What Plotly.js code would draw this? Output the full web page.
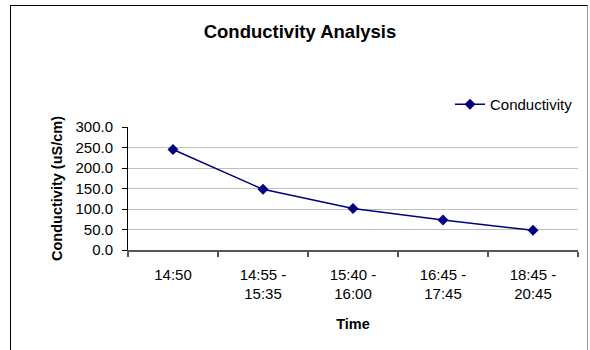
<!DOCTYPE html>
<html>
<head>
<meta charset="utf-8">
<script src="https://cdn.plot.ly/plotly-3.0.1.min.js"></script>
<style>
  html, body { margin: 0; padding: 0; background: #fff; }
  #wrap { position: relative; width: 590px; height: 350px; overflow: hidden; }
  #chart { width: 590px; height: 350px; }
  #frame { position: absolute; left: 10px; top: 5px; width: 576px; height: 400px;
           border-left: 1px solid #000; border-top: 1px solid #000; border-right: 1px solid #999;
           pointer-events: none; }
</style>
</head>
<body>
<div id="wrap">
  <div id="chart"></div>
  <div id="frame"></div>
</div>
<script>
const categories = ["14:50", "14:55 -<br>15:35", "15:40 -<br>16:00", "16:45 -<br>17:45", "18:45 -<br>20:45"];
const conductivity = [245, 148, 101, 73, 48];
const seriesName = "Conductivity";
const yTicks = [0, 50, 100, 150, 200, 250, 300];

const FONT = "Liberation Sans, Arial, sans-serif";
const NAVY = "#000080";

const trace = {
  type: "scatter",
  mode: "lines+markers",
  x: categories,
  y: conductivity,
  name: seriesName,
  line: { color: NAVY, width: 1.5 },
  marker: { symbol: "diamond", size: 8.5, color: NAVY }
};

const layout = {
  width: 590, height: 350,
  margin: { l: 128, r: 12, t: 127, b: 100 },
  paper_bgcolor: "#fff", plot_bgcolor: "#fff",
  font: { family: FONT, size: 15, color: "#000" },
  showlegend: true,
  title: {
    text: "<b>Conductivity Analysis</b>",
    font: { family: FONT, size: 18.5, color: "#000" },
    x: 300 / 590, xref: "container", xanchor: "center",
    y: 1 - 32 / 350, yref: "container", yanchor: "middle"
  },
  xaxis: {
    type: "category",
    range: [-0.5, 4.5],
    tickson: "boundaries",
    ticks: "outside", ticklen: 5, tickcolor: "#555", tickwidth: 1.5,
    showline: true, linecolor: "#555", linewidth: 1.5,
    showgrid: false, zeroline: false,
    tickfont: { family: FONT, size: 15, color: "#000" },
    ticklabelstandoff: 10,
    automargin: false,
    title: { text: "<b>Time</b>", font: { family: FONT, size: 14.5, color: "#000" }, standoff: 18 }
  },
  yaxis: {
    range: [0, 300],
    tickvals: yTicks,
    tickformat: ".1f",
    ticks: "outside", ticklen: 5, tickcolor: "#000", tickwidth: 1,
    showline: true, linecolor: "#000", linewidth: 1,
    showgrid: true, gridcolor: "#c0c0c0", gridwidth: 1,
    zeroline: false,
    tickfont: { family: FONT, size: 15, color: "#000" },
    ticklabelstandoff: 6,
    automargin: false,
    title: { text: "<b>Conductivity (uS/cm)</b>", font: { family: FONT, size: 14.5, color: "#000" }, standoff: 9 }
  },
  legend: {
    x: 1.0, xanchor: "right",
    y: (250 - 88) / 123, yanchor: "top",
    bgcolor: "rgba(0,0,0,0)",
    font: { family: FONT, size: 15, color: "#000" }
  }
};

Plotly.newPlot("chart", [trace], layout, { staticPlot: true, displayModeBar: false });
</script>
</body>
</html>
